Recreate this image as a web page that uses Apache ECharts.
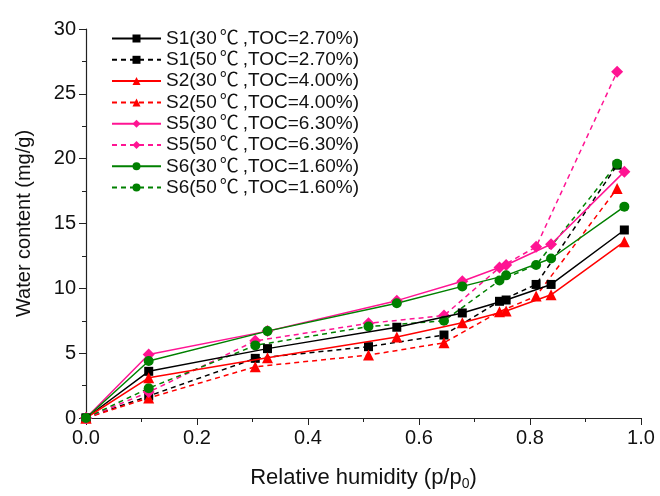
<!DOCTYPE html>
<html><head><meta charset="utf-8">
<script src="https://cdn.jsdelivr.net/npm/echarts@6/dist/echarts.min.js"></script>
<style>html,body{margin:0;padding:0;background:#fff}#c{width:660px;height:496px}</style>
</head><body><div id="c"></div>
<script>
const xSolid  = [0, 0.113, 0.327, 0.56, 0.678, 0.757, 0.838, 0.97];
const xDashed = [0, 0.113, 0.305, 0.509, 0.645, 0.745, 0.811, 0.957];
const names = ['S1(30℃,TOC=2.70%)','S1(50℃,TOC=2.70%)','S2(30℃,TOC=4.00%)','S2(50℃,TOC=4.00%)',
               'S5(30℃,TOC=6.30%)','S5(50℃,TOC=6.30%)','S6(30℃,TOC=1.60%)','S6(50℃,TOC=1.60%)'];
const s1_30 = [0, 3.6, 5.35, 7.0, 8.1, 9.1, 10.3, 14.5];
const s1_50 = [0, 1.7, 4.6, 5.5, 6.4, 9.0, 10.3, 19.5];
const s2_30 = [0, 3.1, 4.65, 6.25, 7.35, 8.25, 9.5, 13.6];
const s2_50 = [0, 1.55, 3.95, 4.85, 5.8, 8.2, 9.4, 17.7];
const s5_30 = [0, 4.9, 6.7, 9.05, 10.55, 11.8, 13.4, 19.0];
const s5_50 = [0, 2.0, 5.95, 7.3, 7.9, 11.6, 13.2, 26.7];
const s6_30 = [0, 4.4, 6.7, 8.85, 10.15, 11.0, 12.3, 16.3];
const s6_50 = [0, 2.3, 5.6, 7.05, 7.5, 10.6, 11.8, 19.6];
const yTicks = [0, 5, 10, 15, 20, 25, 30];

const pair = (xs, ys) => xs.map((x, i) => [x, ys[i]]);
const font = '"Liberation Sans", "Noto Sans CJK SC", sans-serif';
function mk(name, xs, ys, color, symbol, dashed, size) {
  return {
    name, type: 'line', data: pair(xs, ys), symbol, symbolSize: size,
    lineStyle: { color, width: 1.5, type: dashed ? [5, 4] : 'solid' },
    itemStyle: { color },
    z: dashed ? 2 : 3
  };
}
const series = [
  mk(names[0], xSolid, s1_30, '#000000', 'rect', false, 9),
  mk(names[1], xDashed, s1_50, '#000000', 'rect', true, 9),
  mk(names[2], xSolid, s2_30, '#ff0000', 'triangle', false, 11),
  mk(names[3], xDashed, s2_50, '#ff0000', 'triangle', true, 11),
  mk(names[4], xSolid, s5_30, '#ff1493', 'diamond', false, 12),
  mk(names[5], xDashed, s5_50, '#ff1493', 'diamond', true, 12),
  mk(names[6], xSolid, s6_30, '#008000', 'circle', false, 10),
  mk(names[7], xDashed, s6_50, '#008000', 'circle', true, 10)
];
const chart = echarts.init(document.getElementById('c'));
chart.setOption({
  animation: false,
  backgroundColor: '#fff',
  grid: { left: 86, right: 19, top: 29, bottom: 77 },
  legend: {
    orient: 'vertical', left: 106, top: 24, itemWidth: 49, itemHeight: 10, itemGap: 2.3,
    data: names,
    formatter: n => n.split('℃').map(p => '{t|' + p + '}').join('{c|℃}'),
    textStyle: {
      fontFamily: font, fontSize: 19, color: '#111',
      rich: {
        t: { fontFamily: font, fontSize: 19, color: '#111' },
        c: { fontFamily: font, fontSize: 19, color: '#111', padding: [0, 4, 0, 3] }
      }
    }
  },
  xAxis: {
    type: 'value', min: 0, max: 1, interval: 0.2,
    name: '{a|Relative humidity (p/p}{s|0}{a|)}', nameLocation: 'middle', nameGap: 47,
    nameTextStyle: { rich: { a: { fontFamily: font, fontSize: 22, color: '#111' }, s: { fontFamily: font, fontSize: 14, color: '#111', verticalAlign: 'bottom', padding: [12, 0, 0, 0] } } },
    axisLine: { lineStyle: { color: '#222', width: 1.2 } },
    axisTick: { length: 7, lineStyle: { color: '#222' } },
    minorTick: { show: true, splitNumber: 2, length: 4, lineStyle: { color: '#222' } },
    splitLine: { show: false },
    axisLabel: { fontFamily: font, fontSize: 20, color: '#111', margin: 10, formatter: v => v.toFixed(1) }
  },
  yAxis: {
    type: 'value', min: yTicks[0], max: yTicks[yTicks.length - 1], interval: 5,
    name: 'Water content (mg/g)', nameLocation: 'middle', nameGap: 52,
    nameTextStyle: { fontFamily: font, fontSize: 20, color: '#111' },
    axisLine: { show: true, lineStyle: { color: '#222', width: 1.2 } },
    axisTick: { show: true, length: 7, lineStyle: { color: '#222' } },
    minorTick: { show: true, splitNumber: 2, length: 4, lineStyle: { color: '#222' } },
    splitLine: { show: false },
    axisLabel: { fontFamily: font, fontSize: 20, color: '#111', margin: 10 }
  },
  series
});
</script></body></html>
